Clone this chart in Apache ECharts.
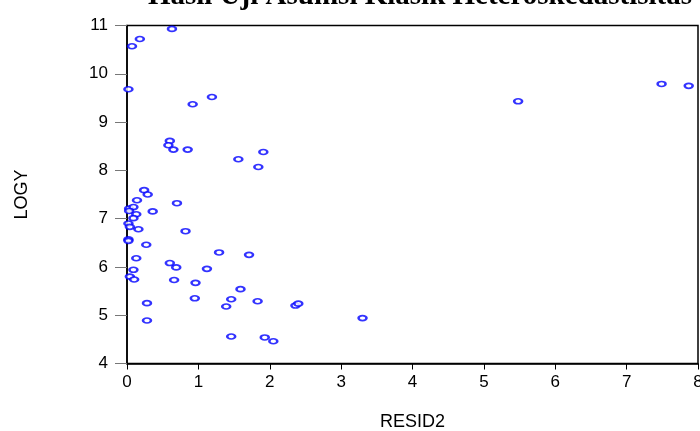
<!DOCTYPE html>
<html>
<head>
<meta charset="utf-8">
<script src="https://cdn.jsdelivr.net/npm/echarts@6/dist/echarts.min.js"></script>
<style>
html,body{margin:0;padding:0;background:#fff;}
#c{width:700px;height:431px;}
</style>
</head>
<body>
<div id="c"></div>
<script>
const titleText = 'Hasil Uji Asumsi Klasik Heteroskedastisitas';
const xName = 'RESID2';
const yName = 'LOGY';
const xTicks = [0, 1, 2, 3, 4, 5, 6, 7, 8];
const yTicks = [4, 5, 6, 7, 8, 9, 10, 11];
const resid2 = [0.63, 0.18, 0.07, 0.02, 0.92, 1.19, 0.60, 0.58, 0.65, 0.85, 1.56, 1.91, 1.84,
  0.24, 0.29, 0.14, 0.70, 0.03, 0.09, 0.03, 0.36, 0.13, 0.09, 0.02, 0.04, 0.16, 0.82,
  0.02, 0.02, 0.27, 1.29, 1.71, 0.13, 0.60, 0.69, 1.12, 0.09, 0.04, 0.10, 0.66, 0.96,
  1.59, 0.95, 1.46, 1.83, 1.39, 0.28, 2.36, 2.40, 0.28, 1.46, 1.93, 2.05, 3.30, 5.48,
  7.49, 7.87];
const logy = [10.93, 10.72, 10.57, 9.68, 9.37, 9.52, 8.61, 8.52, 8.43, 8.43, 8.23, 8.38, 8.07,
  7.59, 7.50, 7.38, 7.32, 7.21, 7.24, 7.16, 7.15, 7.09, 7.01, 6.90, 6.83, 6.78, 6.74,
  6.57, 6.54, 6.46, 6.30, 6.25, 6.18, 6.08, 5.99, 5.96, 5.94, 5.80, 5.74, 5.73, 5.67,
  5.54, 5.35, 5.33, 5.29, 5.18, 5.25, 5.20, 5.24, 4.89, 4.56, 4.54, 4.46, 4.94, 9.43,
  9.79, 9.75];

const points = resid2.map((x, i) => [x, logy[i]]);
const chart = echarts.init(document.getElementById('c'), null, {renderer: 'canvas'});
const labelFont = {fontFamily: '"Liberation Sans", Arial, sans-serif', fontSize: 17, color: '#000'};

chart.setOption({
  animation: false,
  backgroundColor: '#fff',
  graphic: [{
    type: 'text',
    x: 420, y: -3,
    style: {
      text: titleText,
      fontFamily: '"Liberation Serif", "Times New Roman", serif',
      fontWeight: 'bold',
      fontSize: 29,
      fill: '#000',
      align: 'center',
      verticalAlign: 'middle'
    },
    z: 10
  }],
  grid: {
    left: 127, right: 2, top: 25.5, bottom: 67.5,
    outerBoundsMode: 'none',
    containLabel: false,
    show: true, borderColor: '#000', borderWidth: 1.5, backgroundColor: 'transparent'
  },
  xAxis: {
    type: 'value',
    min: xTicks[0], max: xTicks[xTicks.length - 1], interval: 1,
    name: xName, nameLocation: 'middle', nameGap: 50,
    nameTextStyle: Object.assign({}, labelFont, {fontSize: 18}),
    axisLine: {show: true, onZero: false, lineStyle: {color: '#000', width: 1.5}},
    axisTick: {show: true, length: 6, lineStyle: {color: '#000', width: 1}},
    axisLabel: Object.assign({margin: 10}, labelFont),
    splitLine: {show: false}
  },
  yAxis: {
    type: 'value',
    min: yTicks[0], max: yTicks[yTicks.length - 1], interval: 1,
    name: yName, nameLocation: 'middle', nameGap: 96, nameRotate: 90,
    nameTextStyle: Object.assign({}, labelFont, {fontSize: 18}),
    axisLine: {show: true, onZero: false, lineStyle: {color: '#000', width: 1.5}},
    axisTick: {show: true, length: 12, lineStyle: {color: '#777', width: 1}},
    axisLabel: Object.assign({margin: 19}, labelFont),
    splitLine: {show: false}
  },
  series: [{
    type: 'scatter',
    data: points,
    symbol: 'emptyCircle',
    symbolSize: [8, 5],
    itemStyle: {color: '#0000ff', borderColor: '#0000ff', borderWidth: 1.1},
    clip: false
  }]
});
</script>
</body>
</html>
